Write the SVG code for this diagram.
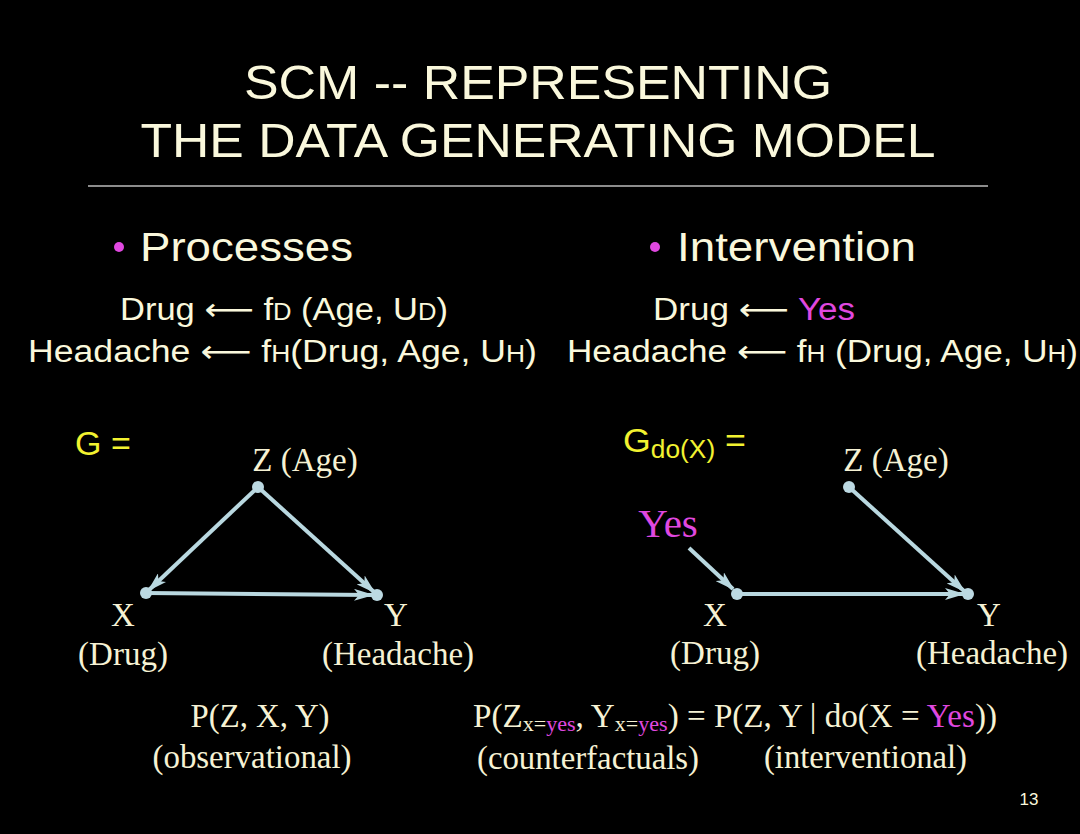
<svg xmlns="http://www.w3.org/2000/svg" width="1080" height="834" viewBox="0 0 1080 834">
<defs>
<style>
.s{font-family:"Liberation Sans",Arial,sans-serif;fill:#FAF8DC}
.r{font-family:"Liberation Serif","Times New Roman",serif;fill:#F6F2D4}
.a{font-family:"DejaVu Sans",sans-serif}
.y{fill:#F2F230}
.m{fill:#E048E0}
.e{stroke:#B9D8E0;stroke-width:4;fill:none;marker-end:url(#ah)}
.n{fill:#BCD9E2}
</style>
<marker id="ah" markerWidth="20" markerHeight="12" refX="18" refY="6" orient="auto" markerUnits="userSpaceOnUse">
<path d="M0,0 L20,6 L0,12 L5,6 Z" fill="#B9D8E0"/>
</marker>
</defs>
<rect width="1080" height="834" fill="#000"/>
<g id="title">
<text class="s" x="538" y="99" font-size="48" text-anchor="middle" textLength="588" lengthAdjust="spacingAndGlyphs">SCM -- REPRESENTING</text>
<text class="s" x="538" y="157" font-size="48" text-anchor="middle" textLength="795" lengthAdjust="spacingAndGlyphs">THE DATA GENERATING MODEL</text>
<line x1="88" y1="186" x2="988" y2="186" stroke="#BBBBBB" stroke-width="1.5"/>
</g>
<g id="processes">
<circle cx="119" cy="247" r="5" fill="#E048E0"/>
<text class="s" x="140" y="261" font-size="40" textLength="213" lengthAdjust="spacingAndGlyphs">Processes</text>
<text class="s" x="120" y="320" font-size="31" textLength="328" lengthAdjust="spacingAndGlyphs">Drug <tspan class="a">⟵</tspan> f<tspan font-size="23">D</tspan> (Age, U<tspan font-size="23">D</tspan>)</text>
<text class="s" x="28" y="362" font-size="31" textLength="509" lengthAdjust="spacingAndGlyphs">Headache <tspan class="a">⟵</tspan> f<tspan font-size="23">H</tspan>(Drug, Age, U<tspan font-size="23">H</tspan>)</text>
</g>
<g id="intervention">
<circle cx="655" cy="247" r="5" fill="#E048E0"/>
<text class="s" x="677" y="261" font-size="40" textLength="239" lengthAdjust="spacingAndGlyphs">Intervention</text>
<text class="s" x="653" y="320" font-size="31" textLength="202" lengthAdjust="spacingAndGlyphs">Drug <tspan class="a">⟵</tspan> <tspan class="m">Yes</tspan></text>
<text class="s" x="567" y="362" font-size="31" textLength="511" lengthAdjust="spacingAndGlyphs">Headache <tspan class="a">⟵</tspan> f<tspan font-size="23">H</tspan> (Drug, Age, U<tspan font-size="23">H</tspan>)</text>
</g>
<g id="connectors">
<line class="e" x1="258" y1="487" x2="149" y2="590"/>
<line class="e" x1="258" y1="487" x2="374" y2="592"/>
<line class="e" x1="146" y1="593" x2="372" y2="595"/>
<line class="e" x1="849" y1="487" x2="964" y2="591"/>
<line class="e" x1="737" y1="594" x2="963" y2="594"/>
<line class="e" x1="689" y1="548" x2="733" y2="589"/>
</g>
<g id="g-left">
<text class="s y" x="75" y="455" font-size="34">G =</text>
</g>
<g id="nodeZ1">
<circle class="n" cx="258" cy="487" r="6"/>
<text class="r" x="305" y="471" font-size="33" text-anchor="middle">Z (Age)</text>
</g>
<g id="nodeX1">
<circle class="n" cx="146" cy="593" r="6"/>
<text class="r" x="123" y="626" font-size="33" text-anchor="middle">X</text>
<text class="r" x="123" y="665" font-size="33" text-anchor="middle">(Drug)</text>
</g>
<g id="nodeY1">
<circle class="n" cx="377" cy="595" r="6"/>
<text class="r" x="396" y="626" font-size="33" text-anchor="middle">Y</text>
<text class="r" x="398" y="665" font-size="33" text-anchor="middle">(Headache)</text>
</g>
<g id="g-right">
<text class="s y" x="623" y="452" font-size="34" textLength="123" lengthAdjust="spacingAndGlyphs">G<tspan font-size="25" dy="6">do(X)</tspan><tspan dy="-6"> =</tspan></text>
</g>
<g id="nodeYes">
<text class="r m" x="668" y="537" font-size="41" text-anchor="middle">Yes</text>
</g>
<g id="nodeZ2">
<circle class="n" cx="849" cy="487" r="6"/>
<text class="r" x="896" y="471" font-size="33" text-anchor="middle">Z (Age)</text>
</g>
<g id="nodeX2">
<circle class="n" cx="737" cy="594" r="6"/>
<text class="r" x="715" y="626" font-size="33" text-anchor="middle">X</text>
<text class="r" x="715" y="664" font-size="33" text-anchor="middle">(Drug)</text>
</g>
<g id="nodeY2">
<circle class="n" cx="968" cy="594" r="6"/>
<text class="r" x="989" y="626" font-size="33" text-anchor="middle">Y</text>
<text class="r" x="992" y="664" font-size="33" text-anchor="middle">(Headache)</text>
</g>
<g id="bottom">
<text class="r" x="260" y="727" font-size="33" text-anchor="middle" textLength="139" lengthAdjust="spacingAndGlyphs">P(Z, X, Y)</text>
<text class="r" x="252" y="768" font-size="33" text-anchor="middle" textLength="199" lengthAdjust="spacingAndGlyphs">(observational)</text>
<text class="r" x="473" y="727" font-size="33" textLength="524" lengthAdjust="spacingAndGlyphs">P(Z<tspan font-size="22" dy="4">x=<tspan class="m">yes</tspan></tspan><tspan dy="-4">, Y</tspan><tspan font-size="22" dy="4">x=<tspan class="m">yes</tspan></tspan><tspan dy="-4">) = P(Z, Y | do(X = </tspan><tspan class="m">Yes</tspan>))</text>
<text class="r" x="477" y="769" font-size="33" textLength="222" lengthAdjust="spacingAndGlyphs">(counterfactuals)</text>
<text class="r" x="764" y="768" font-size="33" textLength="203" lengthAdjust="spacingAndGlyphs">(interventional)</text>
<text class="s" x="1029" y="805" font-size="17" text-anchor="middle" fill="#EEEEEE">13</text>
</g>
</svg>
